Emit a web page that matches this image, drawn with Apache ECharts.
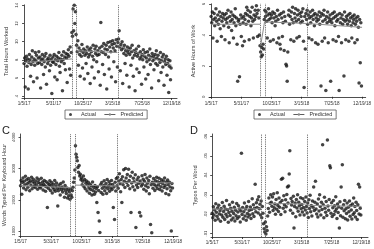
<!DOCTYPE html>
<html>
<head>
<meta charset="utf-8">
<script src="https://cdn.jsdelivr.net/npm/echarts@6/dist/echarts.min.js"></script>
<style>
  html, body { margin: 0; background: #fff; }
  #chart { width: 374px; height: 249px; }
</style>
</head>
<body>
<div id="chart"></div>
<script>
// x axis: business-day index since 1/5/17, one observation every 2 days
const xTickValues = [0, 100, 200, 300, 400, 500];
const xTickLabels = ['1/5/17', '5/31/17', '10/25/17', '3/15/18', '7/25/18', '12/19/18'];
const eventDays = [163, 178, 318];
const dayStep = 2;

// A: total hours worked
const hoursWorked = [
  7.6, 8.2, 5.0, 7.9, 8.4, 7.3, 8.1, 4.8, 7.7, 8.6, 8.0, 6.2, 7.5, 8.3, 9.0, 7.8, 5.6, 8.1, 7.4, 8.8, 7.9, 8.5, 6.0, 7.6, 8.2,
  8.9, 7.7, 8.3, 4.9, 8.0, 7.5, 8.6, 8.1, 6.4, 7.8, 8.4, 7.2, 8.7, 5.3, 8.0, 7.6, 8.2, 7.9, 6.8, 8.5, 7.4, 8.1, 4.3, 7.8, 8.3,
  7.7, 8.6, 6.1, 8.0, 7.5, 8.4, 5.8, 7.9, 8.2, 8.8, 7.3, 6.6, 8.1, 7.8, 8.5, 4.6, 8.0, 8.9, 7.6, 8.3, 6.9, 8.7, 8.2, 5.5, 8.6,
  9.1, 8.4, 7.0, 9.4, 6.3, 8.8, 11.0, 10.6, 13.6, 11.2, 14.0, 12.0, 13.3, 10.8, 9.6, 8.9, 10.1, 7.4, 9.3, 8.6, 6.2, 9.0, 8.4, 9.7, 7.1,
  8.8, 9.2, 5.9, 8.5, 9.0, 7.6, 8.7, 9.4, 6.5, 8.3, 9.1, 8.6, 5.4, 9.3, 8.9, 7.2, 8.4, 9.6, 8.0, 6.0, 9.2, 8.7, 9.5, 7.8, 8.5,
  9.0, 6.7, 8.6, 9.3, 5.2, 12.1, 8.9, 9.5, 7.5, 8.8, 9.8, 6.4, 9.2, 8.6, 9.6, 4.8, 9.1, 9.9, 8.3, 7.0, 9.4, 10.0, 8.9, 6.1, 9.7,
  10.1, 9.3, 7.8, 9.8, 9.0, 5.6, 10.2, 9.5, 7.2, 9.9, 10.3, 11.2, 9.4, 6.8, 9.7, 9.1, 10.0, 5.4, 9.3, 8.7, 9.6, 7.6, 9.0, 8.5, 6.3,
  9.4, 8.8, 9.1, 5.0, 8.6, 9.3, 7.4, 8.9, 9.6, 8.2, 6.2, 9.0, 8.5, 4.6, 8.8, 9.2, 7.0, 8.4, 8.7, 9.5, 6.6, 8.1, 8.9, 8.3, 5.3,
  8.6, 8.0, 9.1, 7.2, 8.4, 8.8, 5.9, 8.2, 7.8, 8.9, 6.4, 8.5, 8.0, 9.2, 7.5, 8.3, 4.9, 8.7, 7.9, 8.4, 6.9, 8.1, 8.6, 7.6, 9.0,
  8.2, 7.4, 8.5, 5.7, 8.0, 7.7, 8.8, 6.6, 7.9, 8.3, 7.2, 8.6, 5.2, 7.8, 8.1, 7.5, 8.4, 6.3, 7.6, 8.0, 4.4, 7.3, 7.9, 5.8, 7.1
];
const hoursPredicted = [
  [[0, 7.7], [162, 8.1]],
  [[178, 9.0], [316, 8.8]],
  [[316, 9.6], [500, 7.4]]
];
const hoursTicks = [4, 6, 8, 10, 12, 14];

// B: active hours of work
const activeHours = [
  5.2, 4.8, 5.5, 3.8, 5.0, 5.4, 4.6, 5.1, 5.7, 4.9, 3.6, 5.3, 4.7, 5.0, 5.5, 4.4, 5.2, 3.9, 4.9, 5.4, 5.1, 4.6, 5.3, 3.7, 5.0,
  5.4, 4.8, 5.1, 5.6, 4.5, 3.5, 5.2, 4.9, 5.5, 4.3, 5.0, 5.3, 3.8, 4.8, 5.2, 5.7, 4.6, 5.1, 3.4, 1.0, 4.9, 5.0, 1.3, 4.7, 5.3,
  3.9, 5.1, 3.3, 4.8, 5.2, 3.6, 5.0, 5.4, 4.7, 5.8, 5.3, 5.6, 4.9, 3.7, 5.2, 5.5, 4.6, 5.1, 5.8, 4.9, 3.8, 5.3, 5.0, 5.6, 5.2,
  5.9, 5.4, 3.9, 5.6, 5.1, 4.0, 3.3, 2.9, 2.6, 3.2, 2.7, 3.4, 3.1, 5.0, 5.6, 5.2, 5.5, 4.9, 3.8, 5.3, 5.7, 5.0, 5.4, 3.6, 5.1,
  5.3, 4.8, 5.5, 3.7, 5.1, 5.4, 4.6, 4.9, 5.2, 3.5, 5.6, 5.0, 3.8, 5.3, 3.4, 3.1, 5.4, 5.1, 3.9, 4.8, 5.5, 3.0, 5.2, 4.9, 2.1,
  2.0, 1.0, 2.9, 5.3, 5.6, 4.7, 5.2, 3.7, 5.5, 5.0, 5.8, 4.8, 3.6, 5.4, 5.1, 5.7, 4.9, 3.8, 5.3, 5.6, 5.0, 3.9, 5.4, 4.8, 5.2,
  5.5, 4.9, 5.7, 3.6, 0.6, 5.2, 3.1, 5.4, 5.0, 5.6, 4.7, 5.3, 3.8, 5.1, 5.5, 4.8, 5.2, 3.7, 5.6, 5.0, 5.3, 4.6, 5.4, 3.5, 5.1,
  4.9, 5.3, 3.4, 5.0, 5.5, 4.7, 5.2, 0.7, 5.4, 3.6, 4.9, 5.3, 5.6, 3.8, 5.0, 0.4, 5.2, 4.8, 5.5, 3.5, 5.1, 4.9, 5.3, 1.0, 5.0,
  4.8, 5.4, 3.7, 5.1, 5.5, 4.6, 5.2, 3.6, 4.9, 5.3, 5.0, 3.9, 0.4, 5.4, 4.8, 5.1, 3.5, 5.3, 4.7, 5.0, 1.35, 5.5, 4.9, 3.7, 5.2,
  5.0, 4.7, 5.3, 3.6, 4.9, 5.4, 5.1, 4.6, 3.8, 5.2, 4.8, 5.0, 5.3, 3.5, 4.7, 5.1, 4.9, 3.7, 5.2, 4.5, 0.9, 5.0, 2.2, 4.8, 0.7
];
const activePredicted = [
  [[0, 4.7], [162, 4.7]],
  [[164, 3.3], [177, 4.85]],
  [[178, 4.85], [318, 4.75]],
  [[318, 4.75], [500, 4.5]]
];
const activeTicks = [0, 2, 4, 6];

// C: words typed per keyboard hour
const wordsPerHour = [
  2450, 2620, 2180, 2550, 2700, 2380, 2590, 2480, 2750, 2320, 2640, 2510, 2400, 2680, 2560, 2290, 2610, 2470, 2720, 2350, 2580, 2660, 2430, 2530, 2390,
  2600, 2470, 2700, 2340, 2550, 2640, 2420, 2520, 2380, 2690, 2460, 2570, 2310, 2500, 2620, 2440, 2270, 2580, 2410, 1750, 2530, 2360, 2480, 2610, 2300,
  2460, 2550, 2220, 2390, 2500, 2330, 2620, 2270, 2440, 2540, 2360, 1800, 2290, 2470, 2380, 2150, 2520, 2320, 2410, 2250, 2570, 2350, 2080, 2460, 2290,
  2200, 2380, 2060, 2310, 2130, 2250, 2020, 2340, 2150, 2080, 2290, 2400, 2560, 2700, 2950, 3730, 3460, 3360, 3250, 3030, 2880, 3100, 2760, 2820, 2640,
  2700, 2480, 2590, 2760, 2420, 2650, 2350, 2530, 2600, 2280, 2470, 2560, 2380, 2210, 2500, 2330, 2440, 2150, 2570, 2290, 2390, 2180, 2460, 2250, 2360,
  1910, 2420, 1590, 2300, 1320, 950, 2480, 2230, 2550, 2370, 2180, 2460, 2610, 2290, 2400, 2520, 2200, 2650, 2350, 2440, 2580, 2270, 2500, 2380, 2620,
  2330, 2490, 1750, 2410, 1370, 2560, 2280, 2680, 2450, 2720, 2370, 2600, 2830, 2510, 2260, 2650, 1910, 2740, 2480, 2960, 2590, 2390, 3000, 2700, 2550,
  2810, 2460, 2980, 2620, 2350, 2750, 1590, 2540, 2880, 2420, 2690, 2580, 2310, 2800, 1110, 2470, 2640, 2390, 2720, 2530, 1590, 2600, 1480, 2440, 2770,
  2500, 2660, 2340, 2590, 2810, 2450, 2280, 2700, 2530, 2400, 2620, 2190, 2750, 1210, 2480, 945, 2560, 2370, 2680, 2490, 2300, 2610, 2440, 2720, 2360,
  2580, 2470, 2690, 2330, 2550, 2420, 2640, 2280, 2510, 2600, 2390, 2700, 2460, 2200, 2570, 2350, 2630, 2480, 2160, 2560, 2410, 2290, 1000, 2520, 2380
];
const wordsPredicted = [
  [[0, 2450], [162, 2390]],
  [[180, 2470], [318, 2440]],
  [[318, 2560], [500, 2540]]
];
const wordsTicks = [1000, 2000, 3000, 4000];

// D: typos per word
const typosPerWord = [
  .0205, .0182, .0238, .0196, .0221, .0168, .0254, .0210, .0189, .0232, .0175, .0246, .0201, .0218, .0163, .0229, .0195, .0260, .0184, .0214, .0241, .0172, .0226, .0199, .0270,
  .0187, .0223, .0158, .0208, .0249, .0193, .0231, .0170, .0215, .0262, .0180, .0203, .0236, .0165, .0220, .0192, .0255, .0178, .0211, .0244, .0186, .0227, .0160, .0216, .0514,
  .0198, .0234, .0176, .0213, .0258, .0190, .0226, .0169, .0240, .0204, .0185, .0266, .0219, .0195, .0237, .0177, .0224, .0280, .0202, .0248, .0188, .0230, .0355, .0212, .0259,
  .0235, .0274, .0206, .0290, .0228, .0251, .0196, .0268, .0182, .0240, .0205, .0150, .0125, .0108, .0160, .0098, .0135, .0115, .0190, .0229, .0284, .0210, .0256, .0300, .0262,
  .0241, .0288, .0219, .0306, .0233, .0252, .0200, .0276, .0225, .0310, .0245, .0214, .0283, .0236, .0260, .0198, .0380, .0271, .0385, .0230, .0295, .0249, .0212, .0274, .0238,
  .0302, .0340, .0257, .0345, .0407, .0528, .0220, .0281, .0247, .0266, .0205, .0293, .0128, .0239, .0258, .0187, .0276, .0232, .0300, .0215, .0262, .0243, .0196, .0285, .0228,
  .0250, .0211, .0279, .0234, .0195, .0265, .0222, .0289, .0240, .0206, .0258, .0183, .0274, .0229, .0297, .0213, .0245, .0190, .0268, .0236, .0340, .0219, .0261, .0370, .0227,
  .0201, .0253, .0185, .0278, .0216, .0300, .0239, .0195, .0262, .0224, .0559, .0248, .0182, .0287, .0231, .0210, .0265, .0193, .0583, .0242, .0220, .0276, .0450, .0440, .0205,
  .0259, .0188, .0233, .0271, .0198, .0244, .0215, .0290, .0226, .0178, .0252, .0209, .0237, .0128, .0264, .0192, .0340, .0230, .0455, .0184, .0249, .0217, .0271, .0176, .0228,
  .0203, .0257, .0170, .0236, .0212, .0268, .0189, .0245, .0221, .0175, .0253, .0198, .0284, .0207, .0240, .0185, .0262, .0219, .0172, .0248, .0355, .0201, .0340, .0230, .0195
];
const typosPredicted = [
  [[0, .0226], [164, .0228]],
  [[180, .0256], [318, .0252]],
  [[318, .0246], [500, .0240]]
];
const typosTicks = [.01, .02, .03, .04, .05, .06];

const FONT = 'Liberation Sans, Arial, sans-serif';
const INK = '#222';

const panels = [
  { title: 'Total Hours Worked', actual: hoursWorked, pred: hoursPredicted, ticks: hoursTicks,
    grid: { left: 22, top: 0, width: 155, height: 98 }, x: [-7, 518], y: [3.8, 14.05], nameGap: 13,
    fmt: v => String(v) },
  { title: 'Active Hours of Work', actual: activeHours, pred: activePredicted, ticks: activeTicks,
    grid: { left: 209, top: 0, width: 157, height: 98 }, x: [-7, 512], y: [-0.08, 6.02], nameGap: 13,
    fmt: v => String(v) },
  { title: 'Words Typed Per Keyboard Hour', actual: wordsPerHour, pred: wordsPredicted, ticks: wordsTicks,
    grid: { left: 19, top: 134, width: 159, height: 102 }, x: [-5, 516], y: [840, 4105], nameGap: 12,
    fmt: v => String(v) },
  { title: 'Typos Per Word', actual: typosPerWord, pred: typosPredicted, ticks: typosTicks,
    grid: { left: 211, top: 134, width: 157, height: 103 }, x: [-4, 522], y: [.0082, .0614], nameGap: 13,
    fmt: v => '.0' + Math.round(v * 100) }
];

const grids = [], xAxes = [], yAxes = [], series = [];
panels.forEach((p, k) => {
  grids.push(p.grid);
  xAxes.push({
    type: 'value', gridIndex: k, min: p.x[0], max: p.x[1],
    axisLine: { lineStyle: { color: INK, width: 0.8 } },
    axisTick: { customValues: xTickValues, length: 2, lineStyle: { color: INK, width: 0.8 } },
    axisLabel: { customValues: xTickValues, formatter: v => xTickLabels[xTickValues.indexOf(v)],
      fontSize: 4.6, color: '#333', fontFamily: FONT, margin: 3 },
    splitLine: { show: false }
  });
  yAxes.push({
    type: 'value', gridIndex: k, min: p.y[0], max: p.y[1],
    name: p.title, nameLocation: 'middle', nameGap: p.nameGap,
    nameTextStyle: { fontSize: 5.6, color: '#333', fontFamily: FONT },
    axisLine: { show: true, lineStyle: { color: INK, width: 0.8 } },
    axisTick: { show: true, customValues: p.ticks, length: 2, lineStyle: { color: INK, width: 0.8 } },
    axisLabel: { customValues: p.ticks, formatter: p.fmt, rotate: 90,
      fontSize: 4.2, color: '#333', fontFamily: FONT, margin: 3 },
    splitLine: { show: false }
  });
  series.push({
    name: 'Actual', type: 'scatter', xAxisIndex: k, yAxisIndex: k,
    data: p.actual.map((v, i) => [i * dayStep, v]),
    symbolSize: 3.5, itemStyle: { color: '#151515' }, silent: true,
    markLine: {
      silent: true, symbol: 'none', label: { show: false },
      lineStyle: { color: '#555', type: 'dotted', width: 0.9 },
      data: eventDays.map(d => ({ xAxis: d }))
    }
  });
  p.pred.forEach(seg => {
    series.push({
      name: 'Predicted', type: 'line', xAxisIndex: k, yAxisIndex: k,
      data: seg, symbol: 'none', silent: true,
      lineStyle: { color: '#8a8a8a', width: 1 }, itemStyle: { color: '#8a8a8a' }
    });
  });
});

const legendBase = {
  top: 110, padding: [2, 4], itemGap: 8, itemWidth: 11, itemHeight: 3,
  borderColor: '#444', borderWidth: 0.7,
  textStyle: { fontSize: 5.4, color: '#333', fontFamily: FONT },
  data: [
    { name: 'Actual', icon: 'circle', itemStyle: { color: '#151515' } },
    { name: 'Predicted', lineStyle: { color: '#333', width: 0.8 } }
  ],
  selectedMode: false
};

const chart = echarts.init(document.getElementById('chart'), null, { renderer: 'canvas' });
chart.setOption({
  animation: false,
  backgroundColor: '#fff',
  grid: grids,
  xAxis: xAxes,
  yAxis: yAxes,
  legend: [
    Object.assign({}, legendBase, { left: 65 }),
    Object.assign({}, legendBase, { left: 254 })
  ],
  graphic: [
    { type: 'text', left: 2, top: 125, style: { text: 'C', fontSize: 11, fill: '#222', fontFamily: FONT } },
    { type: 'text', left: 190, top: 125, style: { text: 'D', fontSize: 11, fill: '#222', fontFamily: FONT } }
  ],
  series
});
</script>
</body>
</html>
